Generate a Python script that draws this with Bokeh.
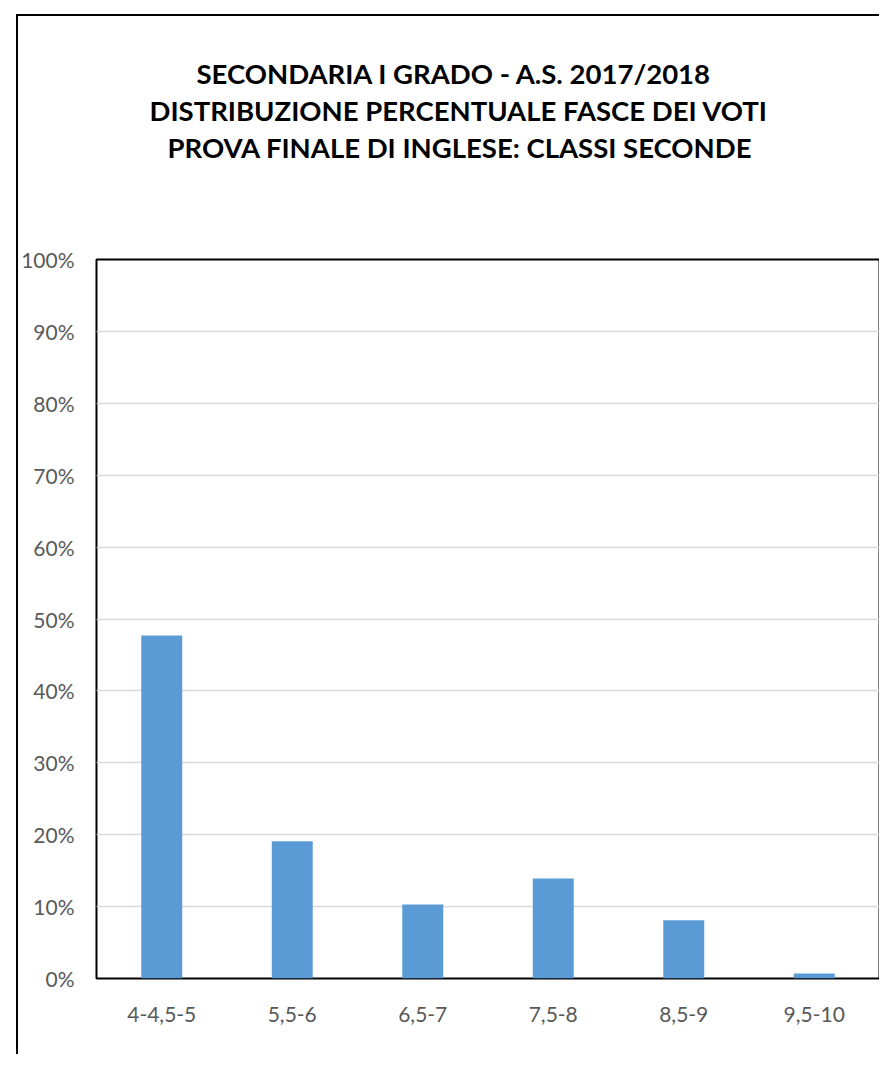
from bokeh.plotting import figure
from bokeh.models import FixedTicker, NumeralTickFormatter, Title
from bokeh.embed import file_html
from bokeh.resources import INLINE

categories = ["4-4,5-5", "5,5-6", "6,5-7", "7,5-8", "8,5-9", "9,5-10"]
values = [0.477, 0.191, 0.103, 0.139, 0.081, 0.007]
y_ticks = [0.0, 0.1, 0.2, 0.3, 0.4, 0.5, 0.6, 0.7, 0.8, 0.9, 1.0]
title_lines = [
    "SECONDARIA I GRADO - A.S. 2017/2018",
    "DISTRIBUZIONE PERCENTUALE FASCE DEI VOTI",
    "PROVA FINALE DI INGLESE: CLASSI SECONDE",
]
title_offsets = [100, 53, 71]

p = figure(
    x_range=categories, y_range=(0, 1.0),
    width=863, height=1040,
    output_backend="svg", toolbar_location=None,
    min_border_left=78, min_border_right=2,
    min_border_top=243, min_border_bottom=78,
)
p.margin = (14, 0, 0, 16)
p.styles = {"border-left": "2px solid #000000", "border-top": "2px solid #000000"}
p.title.text = ""

# spacer between the title block and the plot frame
p.add_layout(Title(text=" ", text_font_size="10px", standoff=82), "above")
for line, off in zip(reversed(title_lines), reversed(title_offsets)):
    p.add_layout(Title(text=line, align="left", offset=off, standoff=2,
                       text_font="Lato", text_font_size="27.5px",
                       text_font_style="bold", text_color="#000000"), "above")

p.vbar(x=categories, top=values, width=0.314, fill_color="#5B9BD5", line_color=None)

p.outline_line_color = "#000000"
p.outline_line_width = 2
p.background_fill_color = "white"
p.border_fill_color = "white"

p.xgrid.grid_line_color = None
p.ygrid.grid_line_color = "#D9D9D9"
p.ygrid.grid_line_width = 1.5
p.ygrid.ticker = FixedTicker(ticks=y_ticks)

p.yaxis.ticker = FixedTicker(ticks=y_ticks)
p.yaxis.formatter = NumeralTickFormatter(format="0%")
for ax in (p.xaxis, p.yaxis):
    ax.axis_line_color = None
    ax.major_tick_line_color = None
    ax.minor_tick_line_color = None
    ax.major_label_text_font = "Lato"
    ax.major_label_text_font_size = "21px"
    ax.major_label_text_color = "#595959"
p.yaxis.major_label_standoff = 16
p.xaxis.major_label_standoff = 22

open("out.html", "w").write(file_html(p, INLINE))
